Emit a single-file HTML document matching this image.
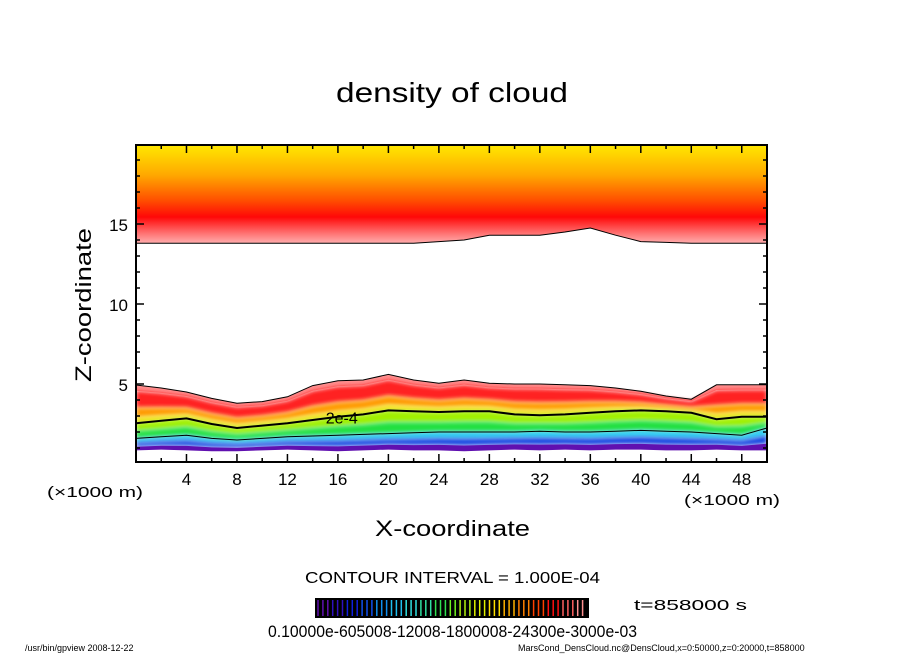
<!DOCTYPE html>
<html><head><meta charset="utf-8"><style>
body{margin:0;background:#fff;}
svg text{font-family:"Liberation Sans",sans-serif;}
</style></head><body>
<svg id="c" width="904" height="654" viewBox="0 0 904 654" xmlns="http://www.w3.org/2000/svg">
<defs>
<linearGradient id="ug" gradientUnits="userSpaceOnUse" x1="0" y1="145" x2="0" y2="245">
<stop offset="0" stop-color="#ffe800"/><stop offset="0.3" stop-color="#ffa800"/>
<stop offset="0.55" stop-color="#ff5000"/><stop offset="0.72" stop-color="#ff0808"/>
<stop offset="0.88" stop-color="#ff7070"/><stop offset="1" stop-color="#ffb8b8"/>
</linearGradient>
<clipPath id="pc"><rect x="136" y="145" width="631" height="317"/></clipPath>
<filter id="bl"><feGaussianBlur stdDeviation="2"/></filter>
</defs>
<text x="336" y="102" font-size="28" textLength="232" lengthAdjust="spacingAndGlyphs">density of cloud</text>
<g id="plot" clip-path="url(#pc)"></g>
<g id="axes"></g>
<text x="91" y="305" font-size="22" text-anchor="middle" textLength="154" lengthAdjust="spacingAndGlyphs" transform="rotate(-90 91 305)">Z-coordinate</text>
<text x="375" y="536" font-size="22" textLength="155" lengthAdjust="spacingAndGlyphs">X-coordinate</text>
<text x="47" y="497" font-size="15" textLength="96" lengthAdjust="spacingAndGlyphs">(×1000 m)</text>
<text x="684" y="505" font-size="15" textLength="96" lengthAdjust="spacingAndGlyphs">(×1000 m)</text>
<text x="305" y="583" font-size="16" textLength="295" lengthAdjust="spacingAndGlyphs">CONTOUR INTERVAL = 1.000E-04</text>
<g id="cbar"></g>
<text x="634" y="610" font-size="15" textLength="113" lengthAdjust="spacingAndGlyphs">t=858000 s</text>
<text x="268" y="637" font-size="17" textLength="369" lengthAdjust="spacingAndGlyphs">0.10000e-605008-12008-1800008-24300e-3000e-03</text>
<text x="25" y="651" font-size="9">/usr/bin/gpview   2008-12-22</text>
<text x="518" y="651" font-size="9">MarsCond_DensCloud.nc@DensCloud,x=0:50000,z=0:20000,t=858000</text>
</svg>
<script>
const xs=[0,2,4,6,8,10,12,14,16,18,20,22,24,26,28,30,32,34,36,38,40,42,44,46,48,50];
const upperBottom=[13.8,13.8,13.8,13.8,13.8,13.8,13.8,13.8,13.8,13.8,13.8,13.8,13.9,14.0,14.3,14.3,14.3,14.5,14.75,14.3,13.9,13.85,13.8,13.8,13.8,13.8];
const lowerTop=[4.94,4.75,4.5,4.1,3.8,3.9,4.2,4.9,5.2,5.25,5.6,5.25,5.05,5.25,5.05,5.0,5.0,4.95,4.9,4.75,4.55,4.25,4.05,4.95,4.95,4.95];
const line2e4=[2.55,2.7,2.85,2.5,2.25,2.4,2.55,2.75,2.95,3.1,3.35,3.3,3.25,3.3,3.3,3.1,3.05,3.1,3.2,3.3,3.35,3.3,3.2,2.8,2.95,2.95];
const lineLow=[1.6,1.7,1.8,1.6,1.5,1.6,1.7,1.75,1.8,1.85,1.9,1.95,2.0,2.0,2.0,2.0,2.05,2.0,2.0,2.05,2.1,2.05,2.0,1.9,1.8,2.25];
const lowerBottom=[0.85,0.9,0.85,0.8,0.8,0.85,0.9,0.85,0.8,0.85,0.9,0.85,0.85,0.8,0.85,0.9,0.85,0.9,0.85,0.9,0.9,0.85,0.85,0.9,0.85,0.85];
const xTicks=[4,8,12,16,20,24,28,32,36,40,44,48];
const zTicks=[5,10,15];
const X=v=>136+v*631/50, Z=v=>464-v*16;
const NS='http://www.w3.org/2000/svg';
function mk(t,a,p){const e=document.createElementNS(NS,t);for(const k in a)e.setAttribute(k,a[k]);p.appendChild(e);return e;}
const plot=document.getElementById('plot');
function band(a,b,col,blur){const pts=xs.map((x,i)=>X(x)+','+Z(a[i])).concat(xs.map((x,i)=>X(x)+','+Z(b[i])).reverse());
 const p=mk('polygon',{points:pts.join(' '),fill:col},plot); if(blur)p.setAttribute('filter','url(#bl)');
 
 }
const lerp=(a,b,f)=>a.map((v,i)=>v+(b[i]-v)*f);
const top20=xs.map(()=>20.5);
band(top20,upperBottom,'url(#ug)',false);
band(lowerTop,lerp(lowerTop,line2e4,0.15),'#ff9090',false);
band(lerp(lowerTop,line2e4,0.15),lerp(lowerTop,line2e4,0.6),'#ff2020',true);
band(lerp(lowerTop,line2e4,0.6),lerp(lowerTop,line2e4,0.85),'#ff9a00',true);
band(lerp(lowerTop,line2e4,0.85),line2e4,'#f0e000',true);
band(line2e4,lerp(line2e4,lineLow,0.5),'#a0f000',true);
band(lerp(line2e4,lineLow,0.5),lineLow,'#20e040',true);
band(lineLow,lerp(lineLow,lowerBottom,0.35),'#20c8f0',true);
band(lerp(lineLow,lowerBottom,0.35),lerp(lineLow,lowerBottom,0.7),'#1040e0',true);
band(lerp(lineLow,lowerBottom,0.7),lowerBottom,'#6010b0',false);
function line(a,w,nm){const p=mk('polyline',{points:xs.map((x,i)=>X(x)+','+Z(a[i])).join(' '),fill:'none',stroke:'#000','stroke-width':w},plot);
 
 }
line(upperBottom,1,'upper-edge-contour');
line(lowerTop,1,'lower-edge-contour');
line(line2e4,2,'contour-2e-4');
line(lineLow,1,'contour-1e-4');
const lb=mk('text',{x:X(16.3),y:Z(2.85)+5,'font-size':16,'text-anchor':'middle'},plot);lb.textContent='2e-4';


const ax=document.getElementById('axes');
mk('rect',{x:136,y:145,width:631,height:317,fill:'none',stroke:'#000','stroke-width':2},ax);
for(let v=2;v<50;v+=2){const L=v%4==0?8:4;
 mk('line',{x1:X(v),x2:X(v),y1:462,y2:462-L,stroke:'#000','stroke-width':1.5},ax);
 mk('line',{x1:X(v),x2:X(v),y1:145,y2:145+L,stroke:'#000','stroke-width':1.5},ax);}
for(let v=1;v<20;v++){const L=v%5==0?8:4;
 mk('line',{x1:136,x2:136+L,y1:Z(v),y2:Z(v),stroke:'#000','stroke-width':1.5},ax);
 mk('line',{x1:767,x2:767-L,y1:Z(v),y2:Z(v),stroke:'#000','stroke-width':1.5},ax);}
xTicks.forEach(v=>{const t=mk('text',{x:X(v),y:485,'font-size':17,'text-anchor':'middle'},ax);t.textContent=v;
 
 });
zTicks.forEach(v=>{const t=mk('text',{x:128,y:Z(v)+7,'font-size':17,'text-anchor':'end'},ax);t.textContent=v;
 
 });
const cb=document.getElementById('cbar');
mk('rect',{x:315,y:598,width:274,height:20,fill:'#000'},cb);
const cols=['#6010b0','#3010c0','#1020e0','#1050f0','#1090f0','#20c0f0','#30e0e0','#30e0a0','#30e050','#70f020','#b0f010','#e0f000','#ffe000','#ffb000','#ff8000','#ff4000','#ff1010','#ff6060','#ff9090'];
for(let i=0;i<55;i++){const c=cols[Math.floor(i*cols.length/55)];
 mk('line',{x1:318+i*4.9,x2:318+i*4.9,y1:600,y2:616,stroke:c,'stroke-width':1.5},cb);}
</script>
</body></html>
